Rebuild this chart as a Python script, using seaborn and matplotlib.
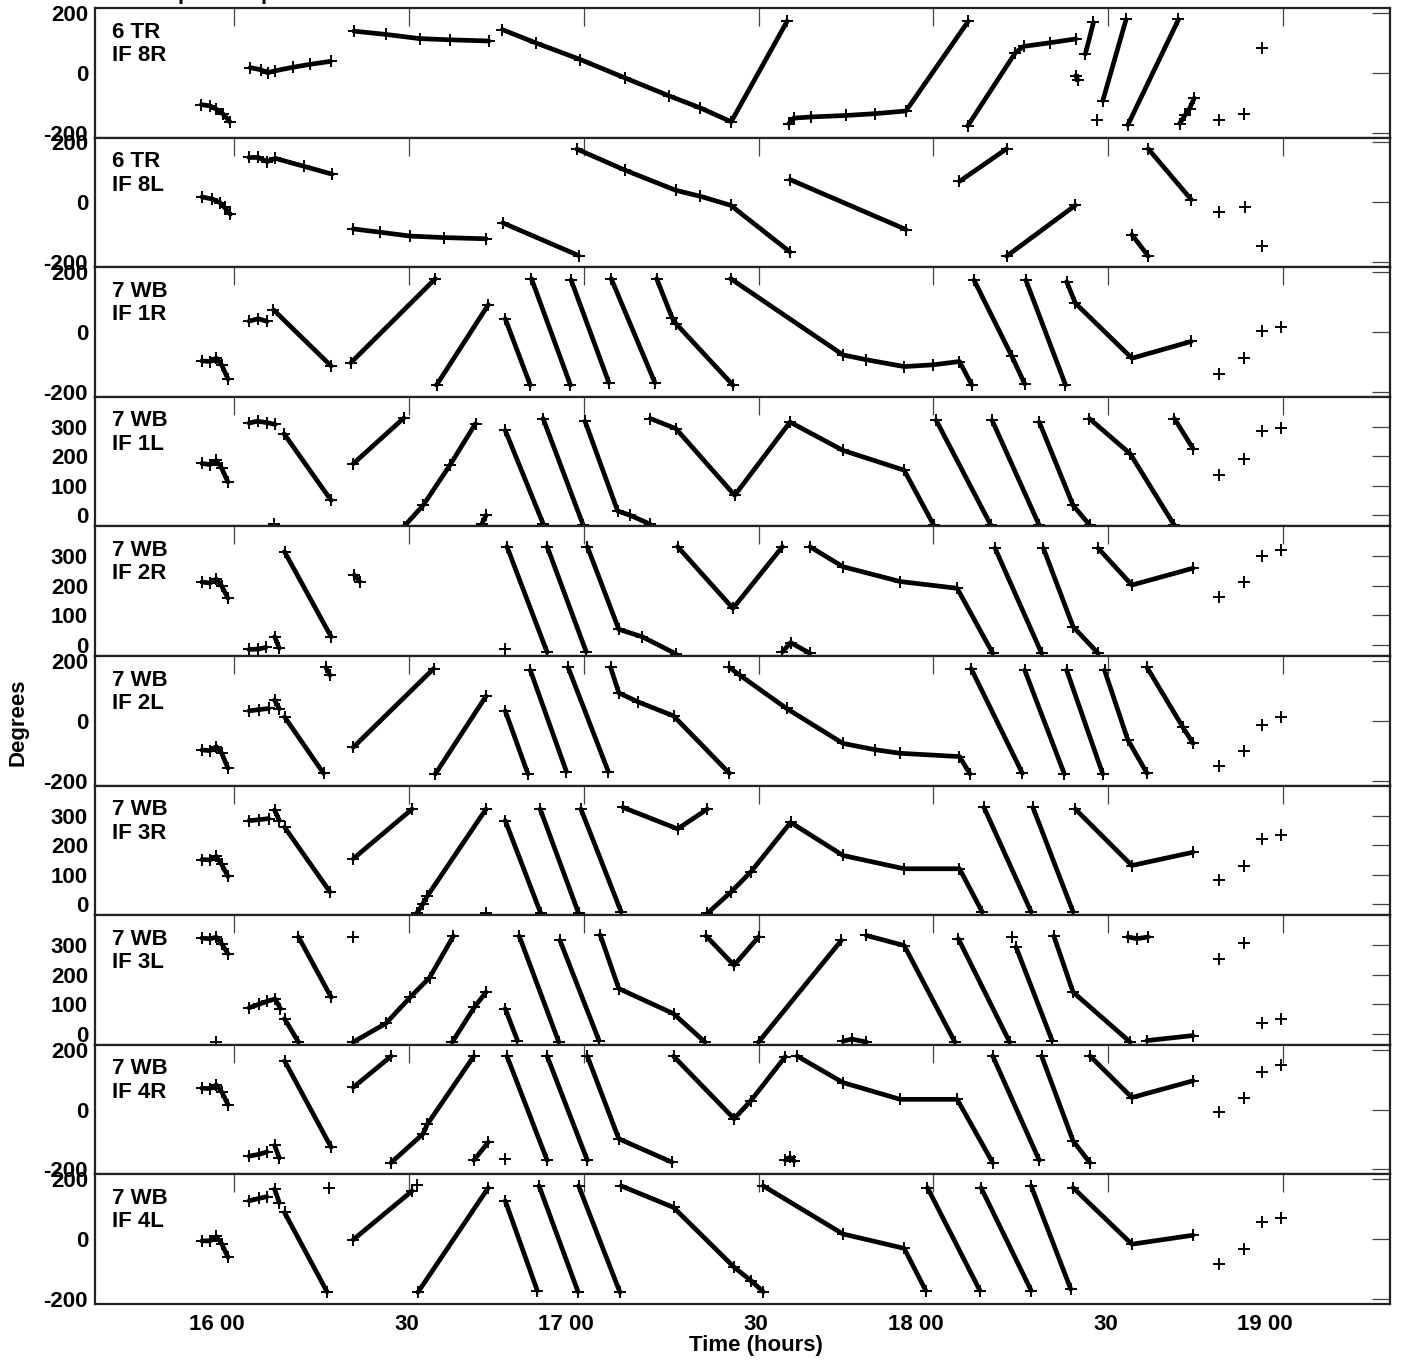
import numpy as np
import pandas as pd
import matplotlib
matplotlib.use("Agg")
import matplotlib.pyplot as plt
import matplotlib.transforms as mtransforms
import seaborn as sns

# ---------------- data (time in minutes after 16:00, phase in degrees) -------------
P8R = [
    [(-5.7, -107), (-4.2, -111), (-3.1, -122), (-1.9, -139), (-0.8, -164)],
    [(2.7, 17), (4.5, 10), (5.7, 0), (6.9, 6), (10, 18), (13, 28), (16.5, 38)],
    [(20.5, 139), (26, 128), (31.8, 114), (37, 110), (43.7, 106)],
    [(46, 144), (51.7, 100), (59.4, 44), (67, -17), (74.7, -78), (79.9, -117), (85.3, -164), (94.9, 172)],
    [(95.2, -170), (96, -152), (99, -148), (105, -143), (110, -137), (115.3, -128), (126, 172)],
    [(125.9, -178), (134.1, 67), (135.5, 88), (140, 100), (144.5, 113)],
    [(144.5, -10), (144.8, -25)],
    [(146.1, 62), (147.5, 168)],
    [(148.1, -157)],
    [(149.1, -94), (153.1, 178)],
    [(153.4, -175), (162.1, 178)],
    [(162.3, -170), (163.3, -140), (164.0, -120), (164.8, -85)],
    [(169.0, -158)], [(173.4, -139)], [(176.5, 83)],
]
P8L = [
    [(-5.6, 18), (-3.8, 11), (-2.4, -2), (-1.7, -17), (-0.7, -40)],
    [(2.5, 150), (4.1, 150), (5.6, 136), (7.0, 147), (12, 120), (16.8, 94)],
    [(20.4, -89), (25, -100), (30.2, -113), (36, -118), (43.2, -122)],
    [(46.1, -69), (59.1, -178)],
    [(58.8, 178), (67, 108), (75.8, 40), (80, 20), (85.2, -10), (95.4, -166)],
    [(95.4, 76), (115.3, -91)],
    [(124.5, 70), (132.6, 179)],
    [(132.6, -180), (144.4, -10)],
    [(154.1, -108), (156.9, -180)],
    [(156.9, 179), (164.3, 9)],
    [(169.1, -33)], [(173.5, -17)], [(176.4, -145)],
]
P1R = [
    [(-5.6, -97), (-4.2, -99), (-3.1, -88), (-2.2, -110), (-1.1, -158)],
    [(2.5, 36), (4.1, 44), (5.6, 35)],
    [(6.7, 74), (16.6, -114)],
    [(20.0, -103), (34.5, 178)],
    [(34.7, -178), (43.6, 91)],
    [(46.5, 44), (50.8, -178)],
    [(51.0, 178), (57.7, -178)],
    [(57.8, 174), (64.3, -170)],
    [(64.7, 178), (72.2, -170)],
    [(72.5, 178), (75.2, 45), (75.8, 28), (85.6, -178)],
    [(85.2, 178), (104.5, -77), (108.5, -93), (115, -116), (120, -110), (124.5, -99), (126.6, -177)],
    [(127.0, 173), (133.5, -82), (135.7, -174)],
    [(135.9, 173), (142.7, -177)],
    [(142.9, 168), (144.4, 96), (154.1, -88), (164.3, -32)],
    [(169.1, -140)], [(173.3, -86)], [(176.4, 4)], [(179.7, 18)],
]
P1L = [
    [(-5.6, 176), (-4.2, 172), (-3.1, 186), (-2.2, 160), (-1.1, 113)],
    [(2.5, 313), (4.0, 319), (5.6, 314), (7.0, 308)],
    [(6.8, -30)],
    [(8.5, 277), (16.6, 51)],
    [(20.4, 175), (29.1, 330)],
    [(29.1, -38), (32.4, 34), (37, 170), (41.4, 311)],
    [(42.5, -28), (43.2, 0)],
    [(46.5, 288), (53.0, -28)],
    [(53.0, 328), (59.9, -34)],
    [(60.2, 319), (65.8, 15), (68, 0), (71.4, -30)],
    [(71.4, 328), (75.8, 294), (85.9, 68), (95.4, 316), (104.5, 220), (115, 153), (120.1, -34)],
    [(120.5, 322), (129.9, -34)],
    [(130.1, 322), (138.2, -34)],
    [(138.2, 316), (144, 34), (146.9, -34)],
    [(146.8, 328), (153.8, 209), (161.4, -34)],
    [(161.4, 328), (164.6, 226)],
    [(169.1, 136)], [(173.3, 190)], [(176.4, 285)], [(179.7, 296)],
]
P2R = [
    [(-5.6, 213), (-4.2, 210), (-3.1, 223), (-2.2, 200), (-1.1, 158)],
    [(2.5, -15), (4.1, -14), (5.4, -8)],
    [(6.9, 28), (7.7, -11)],
    [(8.6, 316), (16.6, 28)],
    [(20.6, 237), (21.5, 215)],
    [(46.5, -15)],
    [(46.8, 333), (53.7, -25)],
    [(53.7, 333), (60.4, -23)],
    [(60.6, 333), (66.0, 53), (70, 28), (75.8, -30)],
    [(76.1, 333), (85.6, 124), (94.1, 333)],
    [(94.1, -23), (95.5, 8), (98.8, -28)],
    [(98.8, 333), (104.5, 265), (114.3, 215), (124.1, 192), (130.2, -28)],
    [(130.6, 328), (138.6, -28)],
    [(138.9, 328), (144, 62), (148.3, -28)],
    [(148.3, 328), (154.1, 203), (164.6, 260)],
    [(169.1, 164)], [(173.3, 215)], [(176.4, 302)], [(179.7, 322)],
]
P2L = [
    [(-5.6, -98), (-4.2, -100), (-3.1, -87), (-2.2, -108), (-1.1, -159)],
    [(2.5, 33), (4.2, 37), (5.9, 41)],
    [(6.9, 69), (7.7, 40)],
    [(8.6, 13), (15.3, -176)],
    [(15.7, 178), (16.4, 152)],
    [(20.4, -89), (34.2, 174)],
    [(34.5, -178), (43.2, 82)],
    [(46.5, 33), (50.4, -178)],
    [(50.8, 169), (57.0, -170)],
    [(57.3, 178), (64.2, -170)],
    [(64.6, 178), (66.0, 93), (69.3, 63), (75.4, 16), (85.0, -176)],
    [(85.0, 178), (86.8, 152), (94.8, 41), (104.5, -76), (110, -97), (114.3, -109), (124.5, -120), (126.3, -178)],
    [(126.5, 174), (135.3, -176)],
    [(135.7, 169), (142.5, -178)],
    [(142.9, 169), (149.1, -178)],
    [(149.4, 169), (153.4, -64), (156.7, -176)],
    [(156.7, 178), (162.8, -20), (164.6, -76)],
    [(169.1, -151)], [(173.3, -100)], [(176.4, -14)], [(179.7, 11)],
]
P3R = [
    [(-5.6, 151), (-4.2, 150), (-3.1, 162), (-2.2, 135), (-1.1, 94)],
    [(2.5, 283), (4.2, 286), (5.9, 290)],
    [(6.9, 319), (7.7, 283)],
    [(8.6, 261), (16.4, 42)],
    [(20.4, 154), (30.5, 322)],
    [(31.3, -31), (32.4, 2), (33.1, 27), (43.2, 322)],
    [(43.2, -31)],
    [(46.5, 283), (52.6, -31)],
    [(52.5, 322), (59.1, -31)],
    [(59.5, 322), (66.4, -26)],
    [(66.7, 328), (76.1, 255), (81.2, 322)],
    [(81.2, -31), (85.2, 40), (88.7, 110), (95.5, 277), (104.5, 165), (115.0, 120), (124.5, 120), (128.4, -26)],
    [(128.7, 328), (136.8, -26)],
    [(137.1, 328), (144.0, -26)],
    [(144.4, 322), (154.1, 131), (164.6, 176)],
    [(169.1, 81)], [(173.3, 131)], [(176.4, 221)], [(179.7, 236)],
]
P3L = [
    [(-5.6, 324), (-4.2, 322), (-3.1, 327), (-2.2, 305), (-1.1, 271)],
    [(-3.1, -28)],
    [(2.5, 88), (4.2, 100), (5.6, 110), (7.0, 118), (7.9, 85)],
    [(8.6, 51), (11.0, -28)],
    [(11.0, 328), (16.6, 124)],
    [(20.4, 328)],
    [(20.4, -28), (26, 35), (30.2, 124), (33.5, 190), (37.6, 331)],
    [(37.4, -28), (41.2, 90), (43.2, 141)],
    [(46.5, 85), (48.6, -23)],
    [(48.9, 331), (55.7, -28)],
    [(55.9, 316), (62.6, -23)],
    [(62.8, 335), (66.0, 153), (75.4, 68), (80.8, -28)],
    [(81.0, 331), (85.8, 232), (90, 328)],
    [(90, -28), (104.2, 316)],
    [(104.5, -25), (106, -18), (108.5, -28)],
    [(108.5, 333), (115.0, 299), (123.7, -28)],
    [(124.3, 322), (133.1, -28)],
    [(133.5, 328)],
    [(134.2, 294), (140.4, -23)],
    [(140.7, 331), (144.0, 141), (153.8, -28)],
    [(153.4, 328), (155, 322), (156.9, 328)],
    [(156.7, -23), (164.6, -6)],
    [(169.1, 254)], [(173.3, 308)], [(176.4, 36)], [(179.7, 51)],
]
P4R = [
    [(-5.6, 71), (-4.2, 70), (-3.1, 82), (-2.2, 60), (-1.1, 16)],
    [(2.5, -156), (4.2, -150), (5.6, -142)],
    [(6.9, -120), (7.7, -162)],
    [(8.6, 163), (16.6, -126)],
    [(20.4, 74), (26.9, 178)],
    [(26.9, -178), (32.4, -81), (33.1, -50), (41.1, 178)],
    [(41.1, -170), (43.6, -109)],
    [(46.5, -164)],
    [(46.8, 178), (53.7, -170)],
    [(53.7, 178), (60.6, -170)],
    [(60.6, 178), (66.0, -98), (75.1, -176)],
    [(75.4, 178), (85.8, -31), (88.7, 30), (94.6, 177)],
    [(94.6, -170), (95.4, -160), (96.1, -172)],
    [(96.6, 179), (104.5, 90), (114.3, 34), (124.1, 34), (130.2, -178)],
    [(130.2, 179), (138.2, -170)],
    [(138.6, 179), (144, -105), (146.9, -178)],
    [(146.9, 179), (154.1, 40), (164.6, 96)],
    [(169.1, -8)], [(173.3, 40)], [(176.4, 127)], [(179.7, 148)],
]
P4L = [
    [(-5.6, -6), (-4.2, -6), (-3.1, 9), (-2.2, -15), (-1.1, -61)],
    [(2.5, 128), (4.2, 136), (5.6, 142)],
    [(6.9, 167), (7.7, 122)],
    [(8.6, 89), (15.9, -176)],
    [(16.3, 170)],
    [(20.4, -2), (30.5, 161)],
    [(31.3, 180)],
    [(31.5, -178), (43.6, 172)],
    [(46.5, 128), (52.0, -172)],
    [(52.3, 178), (59.0, -176)],
    [(59.1, 178), (66.2, -178)],
    [(66.4, 178), (75.4, 106), (85.8, -94), (88.7, -139), (90.8, -176)],
    [(90.8, 178), (104.5, 17), (115, -31), (118.7, -172)],
    [(119.0, 172), (128.0, -172)],
    [(128.2, 172), (136.8, -172)],
    [(136.8, 178), (143.6, -167)],
    [(144.0, 172), (154.1, -17), (164.6, 13)],
    [(169.1, -83)], [(173.3, -33)], [(176.4, 58)], [(179.7, 72)],
]

PANEL_LABELS = ["6 TR\nIF 8R", "6 TR\nIF 8L", "7 WB\nIF 1R", "7 WB\nIF 1L", "7 WB\nIF 2R",
                "7 WB\nIF 2L", "7 WB\nIF 3R", "7 WB\nIF 3L", "7 WB\nIF 4R", "7 WB\nIF 4L"]
PANEL_DATA = [P8R, P8L, P1R, P1L, P2R, P2L, P3R, P3L, P4R, P4L]
PANEL_KIND = ["pm", "pm", "pm", "pos", "pos", "pm", "pos", "pos", "pm", "pm"]

X_TICKS = [16.0, 16.5, 17.0, 17.5, 18.0, 18.5, 19.0]
X_TICKLABELS = ["16 00", "30", "17 00", "30", "18 00", "30", "19 00"]
PM_TICKS, PM_LABELS = [-200, 0, 200], ["-200", "0", "200"]
POS_TICKS, POS_LABELS = [0, 100, 200, 300], ["0", "100", "200", "300"]

# ---------------- figure -------------
sns.set_style("white")
plt.rcParams["font.family"] = ["Liberation Sans", "DejaVu Sans"]
plt.rcParams["font.weight"] = "bold"
plt.rcParams["axes.unicode_minus"] = False
for key in ["text.color", "axes.labelcolor", "xtick.labelcolor", "ytick.labelcolor"]:
    plt.rcParams[key] = "black"

W, H = 1401, 1361
fig = plt.figure(figsize=(W / 100, H / 100), dpi=100)

left_px, right_px = 95, 1390
top_px, panel_h = 7.9, 129.6

for i, (segs, lab, kind) in enumerate(zip(PANEL_DATA, PANEL_LABELS, PANEL_KIND)):
    ptop = top_px + i * panel_h
    ax = fig.add_axes([left_px / W, 1 - (ptop + panel_h) / H, (right_px - left_px) / W, panel_h / H])
    rows = []
    for s, seg in enumerate(segs):
        for m, d in seg:
            rows.append({"seg": s, "t": 16 + m / 60.0, "deg": d})
    df = pd.DataFrame(rows)
    sns.lineplot(data=df, x="t", y="deg", units="seg", estimator=None, sort=False,
                 color="black", linewidth=3.4, marker="+", markersize=8,
                 markeredgewidth=1.4, markeredgecolor="black", ax=ax, legend=False)
    ax.set_xlim(15.601, 19.307)
    if kind == "pm":
        ax.set_ylim(-216.7, 216.7)
        ax.set_yticks(PM_TICKS)
        ax.set_yticklabels(PM_LABELS)
    else:
        ax.set_ylim(-37, 402)
        ax.set_yticks(POS_TICKS)
        ax.set_yticklabels(POS_LABELS)
    ax.set_xticks(X_TICKS)
    ax.set_xlabel("")
    ax.set_ylabel("")
    ax.tick_params(axis="both", direction="in", length=13, width=0.9, color="#444444",
                   top=True, right=True, labelsize=16, pad=5, labelcolor="black")
    for sp in ax.spines.values():
        sp.set_linewidth(1.6)
        sp.set_color("#222222")
    for t in ax.get_yticklabels():
        t.set_fontweight("bold")
    if i == len(PANEL_DATA) - 1:
        ax.set_xticklabels(X_TICKLABELS)
        ax.tick_params(axis="x", pad=7)
        off = mtransforms.ScaledTranslation(10 / 100, 0, fig.dpi_scale_trans)
        for t in ax.get_xticklabels():
            t.set_horizontalalignment("right")
            t.set_transform(t.get_transform() + off)
            t.set_fontweight("bold")
    else:
        ax.set_xticklabels([])
    ax.text(0.0135, 0.895, lab, transform=ax.transAxes, ha="left", va="top",
            fontsize=16, fontweight="bold", linespacing=1.15, color="black")

fig.text(18 / W, 1 - 722 / H, "Degrees", rotation=90, ha="center", va="center",
         fontsize=16, fontweight="bold", color="black")
fig.text(756 / W, 1 - 1346 / H, "Time (hours)", ha="center", va="center",
         fontsize=16, fontweight="bold", color="black")
# fragments of a clipped title at the very top edge
fig.text(178 / W, 1 + 1.5 / H, "p", ha="left", va="baseline", fontsize=16, fontweight="bold", color="black")
fig.text(261 / W, 1 + 1.5 / H, "p", ha="left", va="baseline", fontsize=16, fontweight="bold", color="black")

fig.savefig("out.png", dpi=100, facecolor="white")
